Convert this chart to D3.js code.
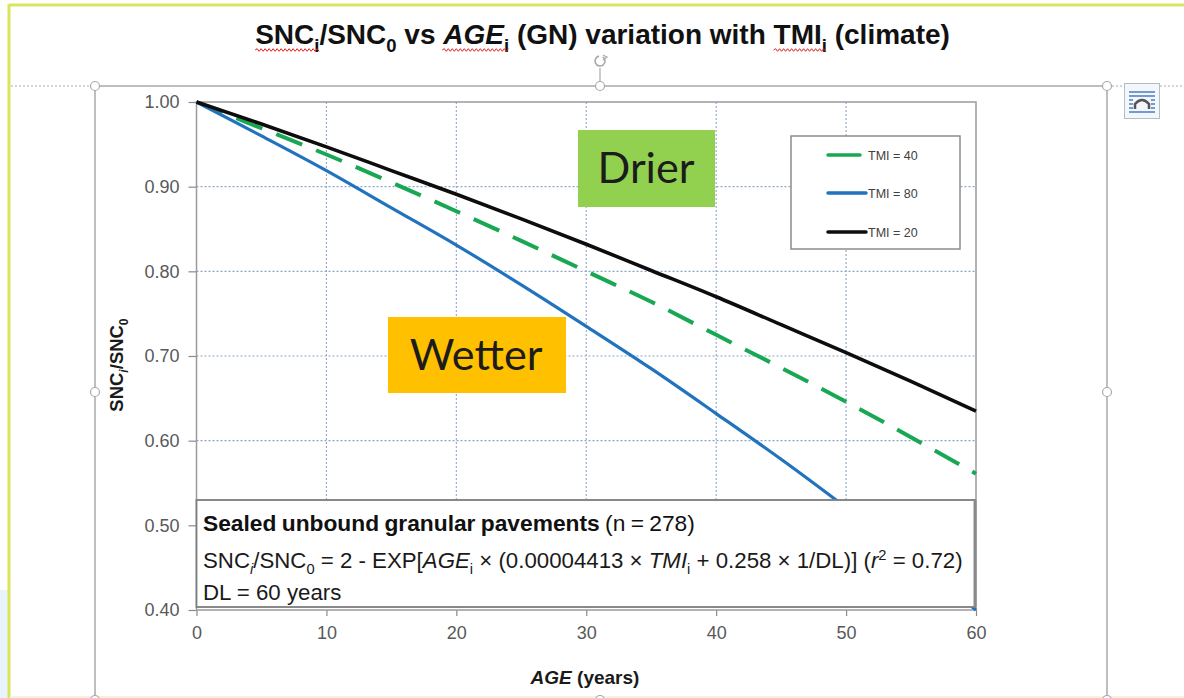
<!DOCTYPE html>
<html><head><meta charset="utf-8">
<script src="https://cdn.jsdelivr.net/npm/d3@7"></script>
<style>
html,body{margin:0;padding:0;background:#fff;}
svg{display:block;font-family:"Liberation Sans",Arial,sans-serif;}
</style></head>
<body>
<svg id="chart" width="1184" height="698"></svg>
<script>
// ---------- data ----------
const ages = [0, 5, 10, 15, 20, 25, 30, 35, 40, 45, 50, 55, 60];
const sncTMI40 = [1.000, 0.969, 0.938, 0.905, 0.871, 0.836, 0.800, 0.764, 0.725, 0.686, 0.646, 0.604, 0.561];
const sncTMI80 = [1.000, 0.960, 0.919, 0.875, 0.831, 0.784, 0.735, 0.685, 0.632, 0.578, 0.521, 0.462, 0.400];
const sncTMI20 = [1.000, 0.974, 0.947, 0.919, 0.891, 0.862, 0.832, 0.801, 0.770, 0.737, 0.704, 0.670, 0.635];
const seriesNames = ["TMI = 40", "TMI = 80", "TMI = 20"];
const xTicks = [0, 10, 20, 30, 40, 50, 60];
const yTicks = [0.40, 0.50, 0.60, 0.70, 0.80, 0.90, 1.00];
const xLabel = "AGE";
const boxTitle = "Sealed unbound granular pavements";
const boxN = " (n = 278)";
const boxDL = "DL = 60 years";

const svg = d3.select("#chart");

// ---------- page decoration (document / selection frame) ----------
svg.append("rect").attr("x", 0).attr("y", 590).attr("width", 8).attr("height", 108).attr("fill", "#e9f3fb");
svg.append("line").attr("x1", 9).attr("x2", 1184).attr("y1", 5).attr("y2", 5).attr("stroke", "#d9e55c").attr("stroke-width", 3);
svg.append("line").attr("x1", 9).attr("x2", 9).attr("y1", 4).attr("y2", 698).attr("stroke", "#d9e55c").attr("stroke-width", 3);
svg.append("line").attr("x1", 10).attr("x2", 1184).attr("y1", 697).attr("y2", 697).attr("stroke", "#f6f3dc").attr("stroke-width", 2);

const frame = svg.append("g").attr("stroke", "#a9a9a9").attr("fill", "none");
frame.append("line").attr("x1", 11).attr("x2", 90).attr("y1", 86).attr("y2", 86).attr("stroke-dasharray", "2,2");
frame.append("line").attr("x1", 1112).attr("x2", 1124).attr("y1", 86).attr("y2", 86).attr("stroke-dasharray", "2,2");
frame.append("line").attr("x1", 1160).attr("x2", 1184).attr("y1", 86).attr("y2", 86).attr("stroke-dasharray", "2,2");
frame.append("line").attr("x1", 95).attr("x2", 1107).attr("y1", 86).attr("y2", 86).attr("stroke-width", 1.5);
frame.append("line").attr("x1", 95).attr("x2", 95).attr("y1", 86).attr("y2", 698).attr("stroke-width", 1.5);
frame.append("line").attr("x1", 1107).attr("x2", 1107).attr("y1", 86).attr("y2", 698).attr("stroke-width", 1.5);
frame.append("line").attr("x1", 600).attr("x2", 600).attr("y1", 68).attr("y2", 86).attr("stroke-width", 1.2);
// rotation handle
frame.append("path").attr("d", d3.arc()({innerRadius: 5, outerRadius: 5, startAngle: 0.6, endAngle: 2 * Math.PI - 0.2}))
  .attr("transform", "translate(600,61)").attr("stroke-width", 1.6);
frame.append("path").attr("d", "M603,55 L607,57 L603,60").attr("stroke-width", 1.2);
[[95,86],[600,86],[1107,86],[95,392],[1107,392],[95,700],[600,700],[1107,700]].forEach(p => {
  frame.append("circle").attr("cx", p[0]).attr("cy", p[1]).attr("r", 4.5).attr("fill", "#fff").attr("stroke-width", 1.2);
});
// layout options icon
const ic = svg.append("g");
ic.append("rect").attr("x", 1124.5).attr("y", 83.5).attr("width", 35).attr("height", 35).attr("fill", "#f3f6fa").attr("stroke", "#b5bcc6");
ic.append("line").attr("x1", 1129).attr("x2", 1155).attr("y1", 92).attr("y2", 92).attr("stroke", "#4a7cc0").attr("stroke-width", 1.5);
ic.append("line").attr("x1", 1129).attr("x2", 1155).attr("y1", 96).attr("y2", 96).attr("stroke", "#4a7cc0").attr("stroke-width", 1.5);
[100, 104, 108].forEach(yy => {
  ic.append("line").attr("x1", 1129).attr("x2", 1133).attr("y1", yy).attr("y2", yy).attr("stroke", "#4a7cc0").attr("stroke-width", 1.5);
  ic.append("line").attr("x1", 1151).attr("x2", 1155).attr("y1", yy).attr("y2", yy).attr("stroke", "#4a7cc0").attr("stroke-width", 1.5);
});
ic.append("path").attr("d", "M1135,109 L1135,104 Q1142,96 1149,104 L1149,109").attr("fill", "none").attr("stroke", "#555").attr("stroke-width", 2.5);
ic.append("line").attr("x1", 1129).attr("x2", 1155).attr("y1", 112).attr("y2", 112).attr("stroke", "#4a7cc0").attr("stroke-width", 1.5);

// ---------- rich text helper ----------
function rich(parent, x, y, segs, fs, anchor, attrs) {
  const t = parent.append("text").attr("x", x).attr("y", y).attr("font-size", fs).attr("text-anchor", anchor || "start");
  if (attrs) Object.entries(attrs).forEach(([k, v]) => t.attr(k, v));
  let shift = 0;
  segs.forEach(s => {
    const ts = t.append("tspan").text(s.t);
    const target = s.sub ? fs * 0.28 : s.sup ? -fs * 0.38 : 0;
    if (Math.abs(target - shift) > 1e-6) { ts.attr("dy", target - shift); shift = target; }
    if (s.sub || s.sup) ts.attr("font-size", fs * 0.66);
    if (s.b) ts.attr("font-weight", "bold");
    if (s.i) ts.attr("font-style", "italic");
    s.node = ts.node();
  });
  return t;
}
function fitRich(parent, x, y, segs, fs, anchor, targetW, attrs) {
  let t = rich(parent, x, y, segs, fs, anchor, attrs);
  const w = t.node().getBBox().width;
  t.remove();
  return { t: rich(parent, x, y, segs, fs * targetW / w, anchor, attrs), fs: fs * targetW / w };
}

// ---------- title ----------
const titleSegs = [
  {t: "SNC", b: 1, sq: 1}, {t: "i", b: 1, sub: 1, sq: 1}, {t: "/SNC", b: 1}, {t: "0", b: 1, sub: 1},
  {t: " vs ", b: 1}, {t: "AGE", b: 1, i: 1, sq: 1}, {t: "i", b: 1, sub: 1, sq: 1},
  {t: " (GN) variation with ", b: 1}, {t: "TMI", b: 1, sq: 1}, {t: "i", b: 1, sub: 1, sq: 1}, {t: " (climate)", b: 1}
];
const titleG = svg.append("g");
fitRich(titleG, 602.5, 44, titleSegs, 22, "middle", 695, {fill: "#111"});
// red spell-check squiggles
function squiggle(x0, x1, yy) {
  let d = `M${x0},${yy}`; let up = true;
  for (let xx = x0 + 2; xx <= x1; xx += 2) { d += ` L${xx},${yy + (up ? -1.3 : 1.3)}`; up = !up; }
  titleG.append("path").attr("d", d).attr("fill", "none").attr("stroke", "#e0201b").attr("stroke-width", 1);
}
[[0, 1], [5, 6], [8, 9]].forEach(([a, b]) => {
  const b0 = titleSegs[a].node.getBBox(), b1 = titleSegs[b].node.getBBox();
  squiggle(b0.x, b1.x + b1.width, 50);
});

// ---------- chart ----------
const x = d3.scaleLinear().domain([0, 60]).range([196.5, 976]);
const y = d3.scaleLinear().domain([0.4, 1.0]).range([610, 102]);
const plot = svg.append("g");

// gridlines
plot.append("g").selectAll("line").data(xTicks.filter(d => d > 0 && d < 60)).join("line")
  .attr("x1", d => x(d)).attr("x2", d => x(d)).attr("y1", y(1.0)).attr("y2", y(0.4))
  .attr("stroke", "#8ca6c8").attr("stroke-width", 1.1).attr("stroke-dasharray", "2,2");
plot.append("g").selectAll("line").data(yTicks.filter(d => d > 0.45 && d < 0.95)).join("line")
  .attr("x1", x(0)).attr("x2", x(60)).attr("y1", d => y(d)).attr("y2", d => y(d))
  .attr("stroke", "#8ca6c8").attr("stroke-width", 1.1).attr("stroke-dasharray", "2,2");

// axes
const yAxis = plot.append("g").attr("transform", `translate(${x(0)},0)`)
  .call(d3.axisLeft(y).tickValues(yTicks).tickFormat(d3.format(".2f")).tickSize(8).tickPadding(9));
const xAxis = plot.append("g").attr("transform", `translate(0,${y(0.4)})`)
  .call(d3.axisBottom(x).tickValues(xTicks).tickFormat(d3.format("d")).tickSize(6).tickPadding(10));
[yAxis, xAxis].forEach(a => {
  a.select(".domain").remove();
  a.selectAll(".tick line").attr("stroke", "#8a8a8a").attr("stroke-width", 1.2);
  a.selectAll(".tick text").attr("font-size", 18).attr("fill", "#595959").attr("font-family", "Liberation Sans, Arial, sans-serif");
});

// plot border
plot.append("rect").attr("x", x(0)).attr("y", y(1.0)).attr("width", x(60) - x(0)).attr("height", y(0.4) - y(1.0))
  .attr("fill", "none").attr("stroke", "#9a9a9a").attr("stroke-width", 1.5);

// series lines
const line = d3.line().x((d, i) => x(ages[i])).y(d => y(d)).curve(d3.curveMonotoneX);
const series = [
  {name: seriesNames[0], vals: sncTMI40, color: "#18a853", w: 4, dash: "28,15"},
  {name: seriesNames[1], vals: sncTMI80, color: "#2273be", w: 3.2, dash: null},
  {name: seriesNames[2], vals: sncTMI20, color: "#0d0d0d", w: 3.6, dash: null}
];
series.forEach(s => {
  plot.append("path").attr("d", line(s.vals)).attr("fill", "none").attr("stroke", s.color)
    .attr("stroke-width", s.w).attr("stroke-dasharray", s.dash).attr("stroke-linecap", "butt");
});

// annotation text box
const tb = svg.append("g");
tb.append("rect").attr("x", x(0)).attr("y", 500).attr("width", x(60) - x(0) - 1).attr("height", 107)
  .attr("fill", "#fff").attr("stroke", "#7d7d7d").attr("stroke-width", 1.8);
tb.append("line").attr("x1", x(60) - 1).attr("x2", x(60) - 1).attr("y1", 500).attr("y2", 607).attr("stroke", "#8a8a8a").attr("stroke-width", 3);
const l1 = [{t: boxTitle, b: 1}, {t: boxN}];
fitRich(tb, 203, 531, l1, 19, "start", 491, {fill: "#111", "word-spacing": "-1"});
const l2 = [
  {t: "SNC"}, {t: "i", sub: 1, i: 1}, {t: "/SNC"}, {t: "0", sub: 1}, {t: " = 2 - EXP["},
  {t: "AGE", i: 1}, {t: "i", sub: 1}, {t: " × (0.00004413 × "}, {t: "TMI", i: 1}, {t: "i", sub: 1},
  {t: " + 0.258 × 1/DL)] ("}, {t: "r", i: 1}, {t: "2", sup: 1}, {t: " = 0.72)"}
];
const r2 = fitRich(tb, 203, 568, l2, 19, "start", 760, {fill: "#1a1a1a"});
rich(tb, 203, 600, [{t: boxDL}], r2.fs, "start", {fill: "#1a1a1a"});

// Drier / Wetter labels
const lab = svg.append("g");
lab.append("rect").attr("x", 578).attr("y", 130).attr("width", 137).attr("height", 77).attr("fill", "#92d050");
lab.append("rect").attr("x", 388).attr("y", 317).attr("width", 178).attr("height", 76).attr("fill", "#ffc000");
const wt = fitRich(lab, 476, 370, [{t: "Wetter"}], 38, "middle", 133, {fill: "#1c1c1c", "font-family": "Lato, 'Open Sans', sans-serif"});
rich(lab, 646, 183, [{t: "Drier"}], wt.fs, "middle", {fill: "#1c1c1c", "font-family": "Lato, 'Open Sans', sans-serif"});

// legend
const lg = svg.append("g");
lg.append("rect").attr("x", 791).attr("y", 136).attr("width", 169).attr("height", 113).attr("fill", "#fff")
  .attr("stroke", "#8c8c8c").attr("stroke-width", 1.5);
const legendY = [155, 193, 232];
const legendX2 = [860, 866, 866];
series.forEach((s, i) => {
  lg.append("line").attr("x1", 828).attr("x2", legendX2[i]).attr("y1", legendY[i]).attr("y2", legendY[i])
    .attr("stroke", s.color).attr("stroke-width", 3.5).attr("stroke-linecap", "round");
  lg.append("text").attr("x", 868).attr("y", legendY[i] + 4.5).attr("font-size", 12.5).attr("fill", "#404040").text(s.name);
});

// axis titles
fitRich(svg, 585, 684, [{t: xLabel, b: 1, i: 1}, {t: " (years)", b: 1}], 16, "middle", 110, {fill: "#1a1a1a"});
fitRich(svg, 0, 0, [{t: "SNC", b: 1}, {t: "i", b: 1, i: 1, sub: 1}, {t: "/SNC", b: 1}, {t: "0", b: 1, sub: 1}], 15, "middle", 94,
  {fill: "#1a1a1a", transform: "translate(123,365) rotate(-90)"});
</script>
</body></html>
